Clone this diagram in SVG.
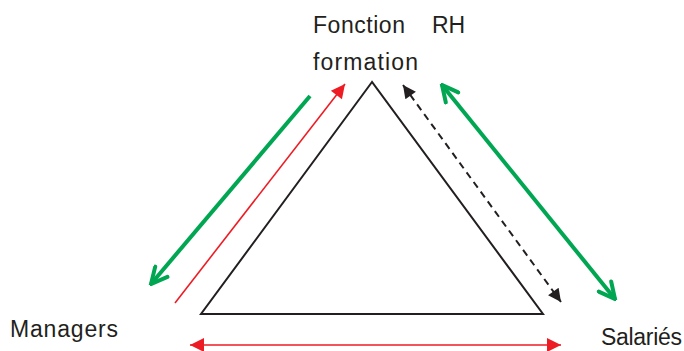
<svg xmlns="http://www.w3.org/2000/svg" width="684" height="351" viewBox="0 0 684 351">
<style>
text{font-family:"Liberation Sans",Arial,sans-serif;font-size:23px;fill:#231f20}
.red{stroke:#ed1c24;stroke-width:1.6;fill:none}
.grn{stroke:#00a651;stroke-width:4;fill:none}
.dash{stroke:#231f20;stroke-width:2;stroke-dasharray:7 5;fill:none}
</style>
<defs>
<marker id="rh" viewBox="0 0 10 10" refX="10" refY="5" markerWidth="17" markerHeight="14" markerUnits="userSpaceOnUse" orient="auto-start-reverse"><path d="M0,0L10,5L0,10Z" fill="#ed1c24"/></marker>
<marker id="kh" viewBox="0 0 10 10" refX="10" refY="5" markerWidth="15" markerHeight="13" markerUnits="userSpaceOnUse" orient="auto-start-reverse"><path d="M0,0L10,5L0,10Z" fill="#231f20"/></marker>
<marker id="gh" viewBox="0 0 20 20" refX="18" refY="10" markerWidth="20" markerHeight="20" markerUnits="userSpaceOnUse" orient="auto-start-reverse"><path d="M2,2L18,10L2,18" fill="none" stroke="#00a651" stroke-width="4" stroke-linecap="round"/></marker>
</defs>
<g id="triangle"><path d="M372,82L201,314L543,314Z" fill="none" stroke="#231f20" stroke-width="2"/></g>
<g id="rh-node"><text x="313" y="33" textLength="92">Fonction</text><text x="432" y="33">RH</text><text x="313" y="70" textLength="105">formation</text></g>
<g id="managers"><text x="10" y="337" textLength="108">Managers</text></g>
<g id="salaries"><text x="601" y="345" textLength="81">Salariés</text></g>
<g id="connectors">
<line class="grn" x1="310" y1="96" x2="151" y2="284" marker-end="url(#gh)"/>
<line class="red" x1="175" y1="303" x2="345" y2="84" marker-end="url(#rh)"/>
<line class="dash" x1="403" y1="85" x2="561" y2="302" marker-start="url(#kh)" marker-end="url(#kh)"/>
<line class="grn" x1="442" y1="85" x2="615" y2="299" marker-start="url(#gh)" marker-end="url(#gh)"/>
<line class="red" x1="190" y1="345" x2="561" y2="345" marker-start="url(#rh)" marker-end="url(#rh)"/>
</g>
</svg>
